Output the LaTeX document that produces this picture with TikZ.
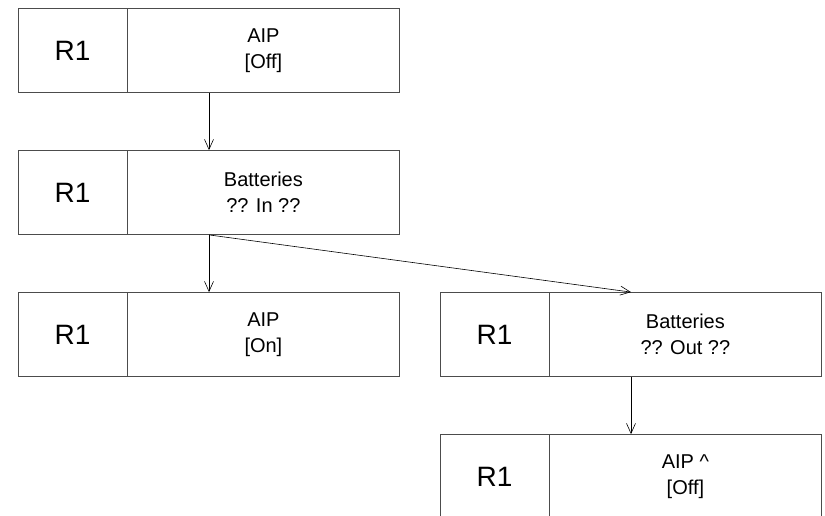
\documentclass[tikz,border=0pt]{standalone}
\usepackage{fontspec}
\setmainfont{Liberation Sans}
\usetikzlibrary{shapes.multipart,arrows.meta}

\newcommand{\regpart}[1]{\parbox[c][84pt][c]{108pt}{\centering\fontsize{28}{30}\selectfont #1}}
\newcommand{\infopart}[2]{\parbox[c][84pt][c]{272pt}{\centering\fontsize{20}{26}\selectfont #1\par #2}}

\begin{document}
\begin{tikzpicture}[x=1pt,y=1pt,
		statebox/.style={rectangle split,rectangle split horizontal,rectangle split parts=2,
			draw=black!70,line width=0.8pt,inner sep=0pt},
		level distance=142pt,
		level 2/.style={sibling distance=422pt},
		edge from parent/.style={draw,line width=0.6pt,-{Straight Barb[length=10pt,width=9pt]}},
		edge from parent path={(\tikzparentnode.south) -- (\tikzchildnode.north)} ]
	\useasboundingbox (0,0) rectangle (825,-515);
	\node [statebox] (s0) at (209,-50.5) {\regpart{R1}\nodepart{two}\infopart{AIP}{[Off]}}
	  child {
		node [statebox] (s1) {\regpart{R1}\nodepart{two}\infopart{Batteries}{?? In ??}}
		child[missing] {}
		child { node [statebox] (s2) {\regpart{R1}\nodepart{two}\infopart{AIP}{[On]}} }
		child {
			node [statebox] (s3) {\regpart{R1}\nodepart{two}\infopart{Batteries}{?? Out ??}}
			child { node [statebox] (s4) {\regpart{R1}\nodepart{two}\infopart{AIP \^{}}{[Off]}} }
		}
	  };
\end{tikzpicture}
\end{document}
